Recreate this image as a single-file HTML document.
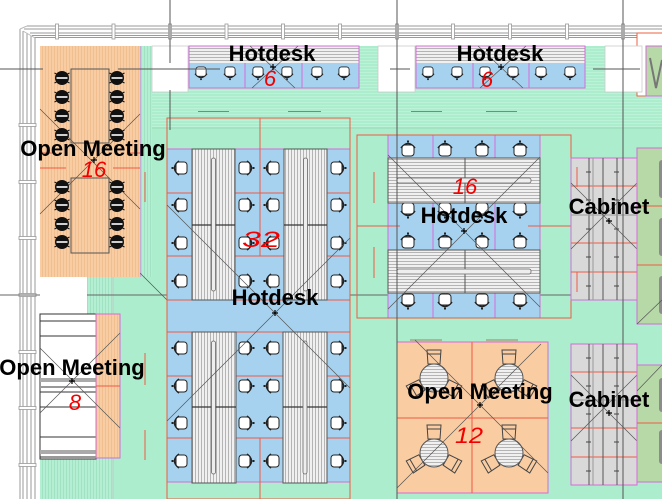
<!DOCTYPE html>
<html><head><meta charset="utf-8"><style>
html,body{margin:0;padding:0;background:#fff;}
svg{display:block}
.lbl{font-family:"Liberation Sans",Arial,sans-serif;font-weight:bold;font-size:22px;fill:#000;text-anchor:middle}
.red{font-family:"Liberation Sans",Arial,sans-serif;font-style:italic;font-size:22px;fill:#f20000;text-anchor:middle}
</style></head><body>
<svg width="662" height="499" viewBox="0 0 662 499" xmlns="http://www.w3.org/2000/svg">
<defs>
<pattern id="hg" width="4" height="3" patternUnits="userSpaceOnUse"><rect width="4" height="3" fill="#abedcc"/><rect width="4" height="1" fill="#bcf2d7"/></pattern>
<pattern id="vg" width="3" height="4" patternUnits="userSpaceOnUse"><rect width="3" height="4" fill="#b4efd3"/><rect width="1" height="4" fill="#a0e2c1"/></pattern>
<pattern id="vo" width="3" height="4" patternUnits="userSpaceOnUse"><rect width="3" height="4" fill="#f9cda4"/><rect width="1" height="4" fill="#f1be90"/></pattern>
<pattern id="dv" width="3" height="4" patternUnits="userSpaceOnUse"><rect width="3" height="4" fill="#f0f0f0"/><rect width="1" height="4" fill="#b4b4b4"/></pattern>
<pattern id="dh" width="4" height="3" patternUnits="userSpaceOnUse"><rect width="4" height="3" fill="#f0f0f0"/><rect width="4" height="1" fill="#b4b4b4"/></pattern>
<g id="cT"><path d="M-7,-2 Q0,-11 7,-2" fill="none" stroke="#222" stroke-width="1.6"/><rect x="-6" y="-5" width="12" height="11" rx="3" fill="#fff" stroke="#222" stroke-width="1"/><rect x="-1" y="-9.5" width="2" height="2" fill="#222"/></g>
<g id="bc"><circle r="7" fill="#111"/><rect x="-5.5" y="-1" width="11" height="2" fill="#cfcfcf"/><path d="M-7.5,-5 l2,1 M7.5,-5 l-2,1 M-7.5,5 l2,-1 M7.5,5 l-2,-1" stroke="#111" stroke-width="1"/></g>
<g id="rch"><path d="M-7,-28 h14 l-1,14 h-12 z" fill="none" stroke="#444" stroke-width="1"/><line x1="-6.5" y1="-24" x2="6.5" y2="-24" stroke="#444"/></g>
<g id="rtab"><use href="#rch"/><use href="#rch" transform="rotate(120)"/><use href="#rch" transform="rotate(-120)"/><circle r="14" fill="url(#dh)" stroke="#555" stroke-width="1"/></g>
</defs>

<rect width="662" height="499" fill="#fff"/>

<!-- walls -->
<g fill="none" stroke="#9a9a9a" stroke-width="1">
<path d="M27,26H662M24,29H662M30,33H662M32,35.5H662M34,37.5H662"/>
<path d="M20,29V499M23,31V499M27,33V499M31,36V499M35,38V499"/>
<path d="M20,29L27,26M23,31L35,38" stroke="#bbb"/>
</g>
<g fill="#fff" stroke="#999" stroke-width="0.8">
<rect x="55.5" y="24" width="3" height="15"/><rect x="112" y="24" width="3" height="15"/><rect x="168.5" y="24" width="3" height="15"/><rect x="225" y="24" width="3" height="15"/><rect x="281.5" y="24" width="3" height="15"/><rect x="338.5" y="24" width="3" height="15"/><rect x="395.5" y="24" width="3" height="15"/><rect x="451.5" y="24" width="3" height="15"/><rect x="508.5" y="24" width="3" height="15"/><rect x="565.5" y="24" width="3" height="15"/><rect x="621.5" y="24" width="3" height="15"/>
<rect x="19" y="123.5" width="17" height="3"/><rect x="19" y="180.5" width="17" height="3"/><rect x="19" y="236.5" width="17" height="3"/><rect x="19" y="293.5" width="17" height="3"/><rect x="19" y="350.5" width="17" height="3"/><rect x="19" y="406.5" width="17" height="3"/><rect x="19" y="463.5" width="17" height="3"/>
</g>

<!-- floor -->
<rect x="40" y="46" width="622" height="453" fill="#abedcc"/>
<rect x="140" y="46" width="522" height="82" fill="url(#hg)"/>
<line x1="152" y1="128" x2="662" y2="128" stroke="#98dcb8" stroke-width="1"/>
<rect x="140" y="46" width="12" height="231" fill="url(#vg)"/>
<rect x="87" y="277" width="26" height="37" fill="url(#vg)"/>
<rect x="40" y="458" width="73" height="41" fill="url(#vg)"/>
<line x1="113" y1="277" x2="113" y2="499" stroke="#b9cfc3" stroke-width="1"/>
<line x1="140" y1="46" x2="140" y2="277" stroke="#d56cd8" stroke-width="1"/>

<!-- under grid line -->
<line x1="0" y1="295" x2="662" y2="295" stroke="#666" stroke-width="1"/>

<!-- red dashes in green -->
<g stroke="#ef5a44" stroke-width="1">
<path d="M198,111.5H229M288,111.5H321M411,111.5H442M486,111.5H517"/>
<path d="M145,172V202M145,353V385M145,430V460M374,172V203M374,247V278"/>
</g>
<line x1="140" y1="273" x2="167" y2="300" stroke="#555" stroke-width="0.7"/>

<!-- top-left open meeting -->
<rect x="40" y="46" width="100" height="231" fill="url(#vo)"/>
<g stroke="#ef5a44" stroke-width="1"><path d="M40,168H66M113,168H140M40,153H52M128,153H140"/></g>
<g stroke="#555" stroke-width="0.7"><path d="M40,109L140,209M140,114L40,214"/></g>
<rect x="71" y="69" width="38" height="74" fill="none" stroke="#555" stroke-width="1"/>
<rect x="71" y="178" width="38" height="75" fill="none" stroke="#555" stroke-width="1"/>
<g>
<use href="#bc" x="62" y="78"/><use href="#bc" x="62" y="97"/><use href="#bc" x="62" y="116"/><use href="#bc" x="62" y="135"/>
<use href="#bc" x="117" y="78"/><use href="#bc" x="117" y="97"/><use href="#bc" x="117" y="116"/><use href="#bc" x="117" y="135"/>
<use href="#bc" x="62" y="187"/><use href="#bc" x="62" y="205"/><use href="#bc" x="62" y="224"/><use href="#bc" x="62" y="242"/>
<use href="#bc" x="117" y="187"/><use href="#bc" x="117" y="205"/><use href="#bc" x="117" y="224"/><use href="#bc" x="117" y="242"/>
</g>

<!-- white areas -->
<rect x="40" y="277" width="47" height="37" fill="#fff"/>
<rect x="152" y="46" width="36" height="46" fill="#fff" stroke="#ccc" stroke-width="0.8"/>
<rect x="378" y="46" width="37" height="46" fill="#fff" stroke="#ccc" stroke-width="0.8"/>
<rect x="637" y="33" width="30" height="63" fill="#fff" stroke="#ee6040" stroke-width="1"/>
<rect x="646" y="46" width="20" height="50" fill="#b7d9a8" stroke="#d56cd8" stroke-width="1"/>
<path d="M650,58L656,88L662,60" fill="none" stroke="#777" stroke-width="2"/>
<rect x="605" y="46" width="37" height="46" fill="#fff" stroke="#ccc" stroke-width="0.8"/>

<!-- top hotdesk strips -->
<g>
<rect x="189" y="63" width="170" height="25" fill="#a6d2f0"/>
<rect x="189" y="46" width="170" height="17" fill="url(#dh)"/>
<rect x="189" y="46" width="170" height="42" fill="none" stroke="#d56cd8" stroke-width="1"/>
<path d="M245,63V88M302,63V88" stroke="#d56cd8" stroke-width="1"/>
<use href="#cT" transform="translate(201,72) rotate(180) scale(0.85)"/>
<use href="#cT" transform="translate(230,72) rotate(180) scale(0.85)"/>
<use href="#cT" transform="translate(258,72) rotate(180) scale(0.85)"/>
<use href="#cT" transform="translate(287,72) rotate(180) scale(0.85)"/>
<use href="#cT" transform="translate(317,72) rotate(180) scale(0.85)"/>
<use href="#cT" transform="translate(344,72) rotate(180) scale(0.85)"/>
<path d="M250,46L295,88M298,46L252,88" stroke="#555" stroke-width="0.7"/>
</g>
<g>
<rect x="416" y="63" width="169" height="25" fill="#a6d2f0"/>
<rect x="416" y="46" width="169" height="17" fill="url(#dh)"/>
<rect x="416" y="46" width="169" height="42" fill="none" stroke="#d56cd8" stroke-width="1"/>
<path d="M473,63V88M529,63V88" stroke="#d56cd8" stroke-width="1"/>
<use href="#cT" transform="translate(428,72) rotate(180) scale(0.85)"/>
<use href="#cT" transform="translate(457,72) rotate(180) scale(0.85)"/>
<use href="#cT" transform="translate(485,72) rotate(180) scale(0.85)"/>
<use href="#cT" transform="translate(513,72) rotate(180) scale(0.85)"/>
<use href="#cT" transform="translate(541,72) rotate(180) scale(0.85)"/>
<use href="#cT" transform="translate(570,72) rotate(180) scale(0.85)"/>
<path d="M478,46L523,88M526,46L480,88" stroke="#555" stroke-width="0.7"/>
</g>

<!-- central hotdesk block -->
<rect x="167" y="149" width="183" height="333" fill="#a6d2f0" stroke="#d56cd8" stroke-width="1"/>
<g stroke="#ef5a44" stroke-width="1">
<path d="M167,193H350M167,256H350M167,300H350M167,332H350M167,376H350M167,438H350"/>
<path d="M260,118V256M260,438V499"/>
</g>
<rect x="167" y="118" width="183" height="381" fill="none" stroke="#ef5a44" stroke-width="1"/>
<g stroke="#555" stroke-width="1">
<rect x="192" y="149" width="43" height="151" fill="url(#dv)"/>
<rect x="284" y="149" width="43" height="151" fill="url(#dv)"/>
<rect x="192" y="332" width="44" height="151" fill="url(#dv)"/>
<rect x="283" y="332" width="44" height="151" fill="url(#dv)"/>
</g>
<g stroke="#333" stroke-width="1.2"><path d="M192,225H235M284,225H327M192,407H236M283,407H327"/></g>
<g fill="#eee" stroke="#666" stroke-width="0.8">
<rect x="211.5" y="158" width="4" height="133" rx="2"/><rect x="303.5" y="158" width="4" height="133" rx="2"/>
<rect x="211.5" y="341" width="4" height="133" rx="2"/><rect x="303" y="341" width="4" height="133" rx="2"/>
</g>
<g>
<use href="#cT" transform="translate(181,168) rotate(-90)"/><use href="#cT" transform="translate(181,205) rotate(-90)"/><use href="#cT" transform="translate(181,243) rotate(-90)"/><use href="#cT" transform="translate(181,281) rotate(-90)"/>
<use href="#cT" transform="translate(245,168) rotate(90)"/><use href="#cT" transform="translate(245,205) rotate(90)"/><use href="#cT" transform="translate(245,243) rotate(90)"/><use href="#cT" transform="translate(245,281) rotate(90)"/>
<use href="#cT" transform="translate(273,168) rotate(-90)"/><use href="#cT" transform="translate(273,205) rotate(-90)"/><use href="#cT" transform="translate(273,243) rotate(-90)"/><use href="#cT" transform="translate(273,281) rotate(-90)"/>
<use href="#cT" transform="translate(337,168) rotate(90)"/><use href="#cT" transform="translate(337,205) rotate(90)"/><use href="#cT" transform="translate(337,243) rotate(90)"/><use href="#cT" transform="translate(337,281) rotate(90)"/>
<use href="#cT" transform="translate(181,348) rotate(-90)"/><use href="#cT" transform="translate(181,386) rotate(-90)"/><use href="#cT" transform="translate(181,423) rotate(-90)"/><use href="#cT" transform="translate(181,461) rotate(-90)"/>
<use href="#cT" transform="translate(245,348) rotate(90)"/><use href="#cT" transform="translate(245,386) rotate(90)"/><use href="#cT" transform="translate(245,423) rotate(90)"/><use href="#cT" transform="translate(245,461) rotate(90)"/>
<use href="#cT" transform="translate(273,348) rotate(-90)"/><use href="#cT" transform="translate(273,386) rotate(-90)"/><use href="#cT" transform="translate(273,423) rotate(-90)"/><use href="#cT" transform="translate(273,461) rotate(-90)"/>
<use href="#cT" transform="translate(337,348) rotate(90)"/><use href="#cT" transform="translate(337,386) rotate(90)"/><use href="#cT" transform="translate(337,423) rotate(90)"/><use href="#cT" transform="translate(337,461) rotate(90)"/>
</g>
<path d="M167,205L350,388M167,421L350,238" stroke="#555" stroke-width="0.7"/>

<!-- middle right hotdesk -->
<rect x="388" y="135" width="152" height="183" fill="#a6d2f0" stroke="#d56cd8" stroke-width="1"/>
<g stroke="#d56cd8" stroke-width="1"><path d="M433,135V318M495,135V318"/></g>
<g stroke="#ef5a44" stroke-width="1"><path d="M357,226H400M528,226H571"/></g>
<rect x="357" y="135" width="214" height="183" fill="none" stroke="#ef5a44" stroke-width="1"/>
<g>
<use href="#cT" x="408" y="150"/><use href="#cT" x="445" y="150"/><use href="#cT" x="482" y="150"/><use href="#cT" x="520" y="150"/>
<use href="#cT" transform="translate(408,209) rotate(180)"/><use href="#cT" transform="translate(445,209) rotate(180)"/><use href="#cT" transform="translate(482,209) rotate(180)"/><use href="#cT" transform="translate(520,209) rotate(180)"/>
<use href="#cT" x="408" y="242"/><use href="#cT" x="445" y="242"/><use href="#cT" x="482" y="242"/><use href="#cT" x="520" y="242"/>
<use href="#cT" transform="translate(408,300) rotate(180)"/><use href="#cT" transform="translate(445,300) rotate(180)"/><use href="#cT" transform="translate(482,300) rotate(180)"/><use href="#cT" transform="translate(520,300) rotate(180)"/>
</g>
<g stroke="#555" stroke-width="1">
<rect x="388" y="158" width="77" height="45" fill="url(#dh)"/><rect x="465" y="158" width="75" height="45" fill="url(#dh)"/>
<rect x="388" y="250" width="77" height="43" fill="url(#dh)"/><rect x="465" y="250" width="75" height="43" fill="url(#dh)"/>
</g>
<g fill="#eee" stroke="#666" stroke-width="0.8"><rect x="397" y="178" width="134" height="5" rx="2"/><rect x="397" y="269" width="134" height="5" rx="2"/></g>
<path d="M388,155L540,307M388,309L540,157" stroke="#555" stroke-width="0.7"/>

<!-- cabinets -->
<g>
<rect x="571" y="158" width="66" height="142" fill="#d9d9d9" stroke="#d56cd8" stroke-width="1"/>
<rect x="571" y="344" width="66" height="141" fill="#d9d9d9" stroke="#d56cd8" stroke-width="1"/>
<g stroke="#ef5a44" stroke-width="1"><path d="M571,186H637M571,243H637M571,272H637M577,167V187M577,272V292M571,372H637M571,428H637M571,457H637"/></g>
<g stroke="#555" stroke-width="1"><path d="M589,158V300M603,158V300M617,158V300M589,344V485M603,344V485M617,344V485"/></g>
<g stroke="#999" stroke-width="1"><path d="M593,158V300M593,344V485M571,215H637M571,400H637"/></g>
<g stroke="#444" stroke-width="1"><path d="M586,172h5M586,200h5M586,229h5M586,257h5M586,286h5M614,172h5M614,200h5M614,229h5M614,257h5M614,286h5M586,358h5M586,386h5M586,414h5M586,442h5M586,471h5M614,358h5M614,386h5M614,414h5M614,442h5M614,471h5"/></g>
<path d="M571,183L637,249M637,183L571,249M571,375L637,441M637,375L571,441" stroke="#555" stroke-width="0.7"/>
<rect x="637" y="148" width="30" height="176" fill="#b7d9a8" stroke="#d56cd8" stroke-width="1"/>
<rect x="637" y="365" width="30" height="117" fill="#b7d9a8" stroke="#d56cd8" stroke-width="1"/>
<g stroke="#ef5a44" stroke-width="1"><path d="M637,206H662M637,265H662M637,423H662"/></g>
<g fill="#8c8c8c"><rect x="659" y="160" width="8" height="38" rx="3"/><rect x="659" y="218" width="8" height="38" rx="3"/><rect x="659" y="276" width="8" height="38" rx="3"/><rect x="659" y="378" width="8" height="34" rx="3"/><rect x="659" y="430" width="8" height="34" rx="3"/></g>
<path d="M637,324L662,300M637,391L662,365" stroke="#555" stroke-width="0.7"/>
</g>

<!-- bottom-right open meeting -->
<rect x="397" y="342" width="151" height="151" fill="#f9cca2" stroke="#d56cd8" stroke-width="1"/>
<g fill="#a8b896"><rect x="410" y="339" width="32" height="3"/><rect x="486" y="339" width="32" height="3"/></g>
<g stroke="#ef5a44" stroke-width="1"><path d="M472,342V493M397,418H548"/></g>
<use href="#rtab" x="434" y="378"/><use href="#rtab" x="509" y="378"/><use href="#rtab" x="434" y="453"/><use href="#rtab" x="509" y="453"/>
<path d="M415,340L548,473M541,344L397,488" stroke="#555" stroke-width="0.7"/>

<!-- lower-left open meeting (sofa) -->
<rect x="40" y="314" width="56" height="145" fill="#fff" stroke="#333" stroke-width="1"/>
<g stroke="#333" stroke-width="1"><path d="M40,321H96M40,336H96M40,392H96M40,407H96M40,437H96M40,457H96"/></g>
<rect x="40" y="378" width="56" height="4" fill="#aaa"/><rect x="40" y="386" width="56" height="2" fill="#999"/>
<rect x="40" y="450" width="56" height="4" fill="#aaa"/>
<rect x="96" y="314" width="24" height="144" fill="url(#vo)" stroke="#d56cd8" stroke-width="1"/>
<line x1="96" y1="386" x2="120" y2="386" stroke="#ef5a44" stroke-width="1"/>
<path d="M40,348L120,428M120,333L40,413" stroke="#555" stroke-width="0.7"/>

<!-- top grid lines / crosshairs -->
<g stroke="#555" stroke-width="1">
<path d="M170,0V63M170,90V130"/>
<path d="M397,0V499M623,0V499"/>
<path d="M0,69H43M118,69H220M390,69H410M593,69H640"/>
</g>

<!-- centre markers -->
<g stroke="#000" stroke-width="1.2">
<path d="M91,160h6M94,157v6"/>
<path d="M270,67h6M273,64v6"/>
<path d="M498,67h6M501,64v6"/>
<path d="M272,313h6M275,310v6"/>
<path d="M461,231h6M464,228v6"/>
<path d="M606,221h6M609,218v6"/>
<path d="M606,413h6M609,410v6"/>
<path d="M477,405h6M480,402v6"/>
<path d="M69,381h6M72,378v6"/>
</g>

<!-- labels -->
<text class="lbl" x="93" y="156">Open Meeting</text>
<text class="lbl" x="272" y="61">Hotdesk</text>
<text class="lbl" x="500" y="61">Hotdesk</text>
<text class="lbl" x="275" y="305">Hotdesk</text>
<text class="lbl" x="464" y="223">Hotdesk</text>
<text class="lbl" x="609" y="214">Cabinet</text>
<text class="lbl" x="72" y="375">Open Meeting</text>
<text class="lbl" x="480" y="399">Open Meeting</text>
<text class="lbl" x="609" y="407">Cabinet</text>

<!-- handwritten numbers -->
<text class="red" x="94" y="177" font-size="24">16</text>
<text class="red" x="270" y="86" font-size="17">6</text>
<text class="red" x="487" y="87" font-size="17">6</text>
<text class="red" x="261" y="247" font-size="25" textLength="38" lengthAdjust="spacingAndGlyphs">32</text>
<text class="red" x="465" y="194" font-size="22">16</text>
<text class="red" x="75" y="410" font-size="24">8</text>
<text class="red" x="469" y="443" font-size="25" textLength="28" lengthAdjust="spacingAndGlyphs">12</text>
</svg>
</body></html>
